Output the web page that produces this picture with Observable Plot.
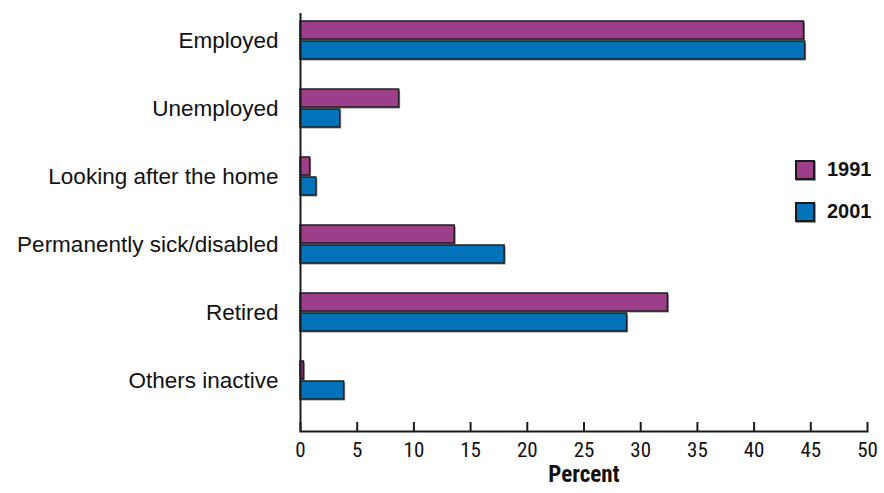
<!DOCTYPE html>
<html>
<head>
<meta charset="utf-8">
<script src="https://cdn.jsdelivr.net/npm/d3@7"></script>
<script src="https://cdn.jsdelivr.net/npm/@observablehq/plot@0.6"></script>
<style>
  html, body { margin: 0; padding: 0; background: #fff; }
  #wrap { position: relative; width: 884px; height: 493px; }
  .legend { position: absolute; left: 795px; font-family: "Liberation Sans", Arial, sans-serif; font-weight: bold; font-size: 20px; color: #111; }
  .legend .item { position: absolute; left: 0; display: flex; align-items: center; white-space: nowrap; }
  .legend .sw { width: 16px; height: 16px; border: 2px solid #1a1a1a; margin-right: 12px; box-shadow: 1px 1px 0 #999; }
</style>
</head>
<body>
<div id="wrap"></div>
<script>
const categories = ["Employed", "Unemployed", "Looking after the home", "Permanently sick/disabled", "Retired", "Others inactive"];
const years = ["1991", "2001"];
const values1991 = [44.4, 8.7, 0.85, 13.6, 32.4, 0.3];
const values2001 = [44.5, 3.5, 1.4, 18.0, 28.8, 3.85];
const xTicks = [0, 5, 10, 15, 20, 25, 30, 35, 40, 45, 50];
const colors = ["#9D3E8A", "#0273BA"];
const xLabel = "Percent";

const d1991 = categories.map((c, i) => ({category: c, year: years[0], value: values1991[i]}));
const d2001 = categories.map((c, i) => ({category: c, year: years[1], value: values2001[i]}));

const condensed = '"Roboto Condensed", "DejaVu Sans Condensed", "Liberation Sans Narrow", "Arial Narrow", sans-serif';
const regular = '"Liberation Sans", Arial, sans-serif';

const chart = Plot.plot({
  width: 884,
  height: 493,
  marginTop: 13,
  marginBottom: 62,
  marginLeft: 300,
  marginRight: 17,
  style: {fontFamily: regular, color: "#111", background: "transparent"},
  x: {domain: [0, 50], axis: null},
  y: {domain: categories, paddingInner: 0.448, paddingOuter: 0.264, align: 0.19, axis: null},
  marks: [
    // shadows
    Plot.barX(d1991, {x: "value", y: "category", fill: "#8a8a8a", insetBottom: 20, dx: 1.5, dy: 1.5}),
    Plot.barX(d2001, {x: "value", y: "category", fill: "#8a8a8a", insetTop: 20, dx: 1.5, dy: 1.5}),
    // bars
    Plot.barX(d1991, {x: "value", y: "category", fill: colors[0], stroke: "#1e1e1e", strokeWidth: 1.5, insetBottom: 20}),
    Plot.barX(d2001, {x: "value", y: "category", fill: colors[1], stroke: "#1e1e1e", strokeWidth: 1.5, insetTop: 20}),
    // axes
    Plot.ruleX([0], {stroke: "#1a1a1a", strokeWidth: 2}),
    Plot.frame({anchor: "bottom", stroke: "#1a1a1a", strokeWidth: 2}),
    Plot.tickX(xTicks, {x: d => d, stroke: "#1a1a1a", strokeWidth: 2, insetTop: 409}),
    Plot.axisX({ticks: xTicks, tickSize: 0, tickPadding: 11, fontSize: 21, fontFamily: condensed, label: null}),
    Plot.axisY({tickSize: 0, tickPadding: 22, fontSize: 22.5, fontFamily: regular, label: null}),
    Plot.text([xLabel], {text: d => d, frameAnchor: "bottom", dy: 50, fontSize: 23, fontWeight: "bold", fontFamily: condensed})
  ]
});

const wrap = document.getElementById("wrap");
wrap.appendChild(chart);

const legend = document.createElement("div");
legend.className = "legend";
legend.style.top = "158px";
years.forEach((y, i) => {
  const item = document.createElement("div");
  item.className = "item";
  item.style.top = (i * 42) + "px";
  const sw = document.createElement("span");
  sw.className = "sw";
  sw.style.background = colors[i];
  const t = document.createElement("span");
  t.textContent = y;
  item.appendChild(sw);
  item.appendChild(t);
  legend.appendChild(item);
});
wrap.appendChild(legend);
</script>
</body>
</html>
